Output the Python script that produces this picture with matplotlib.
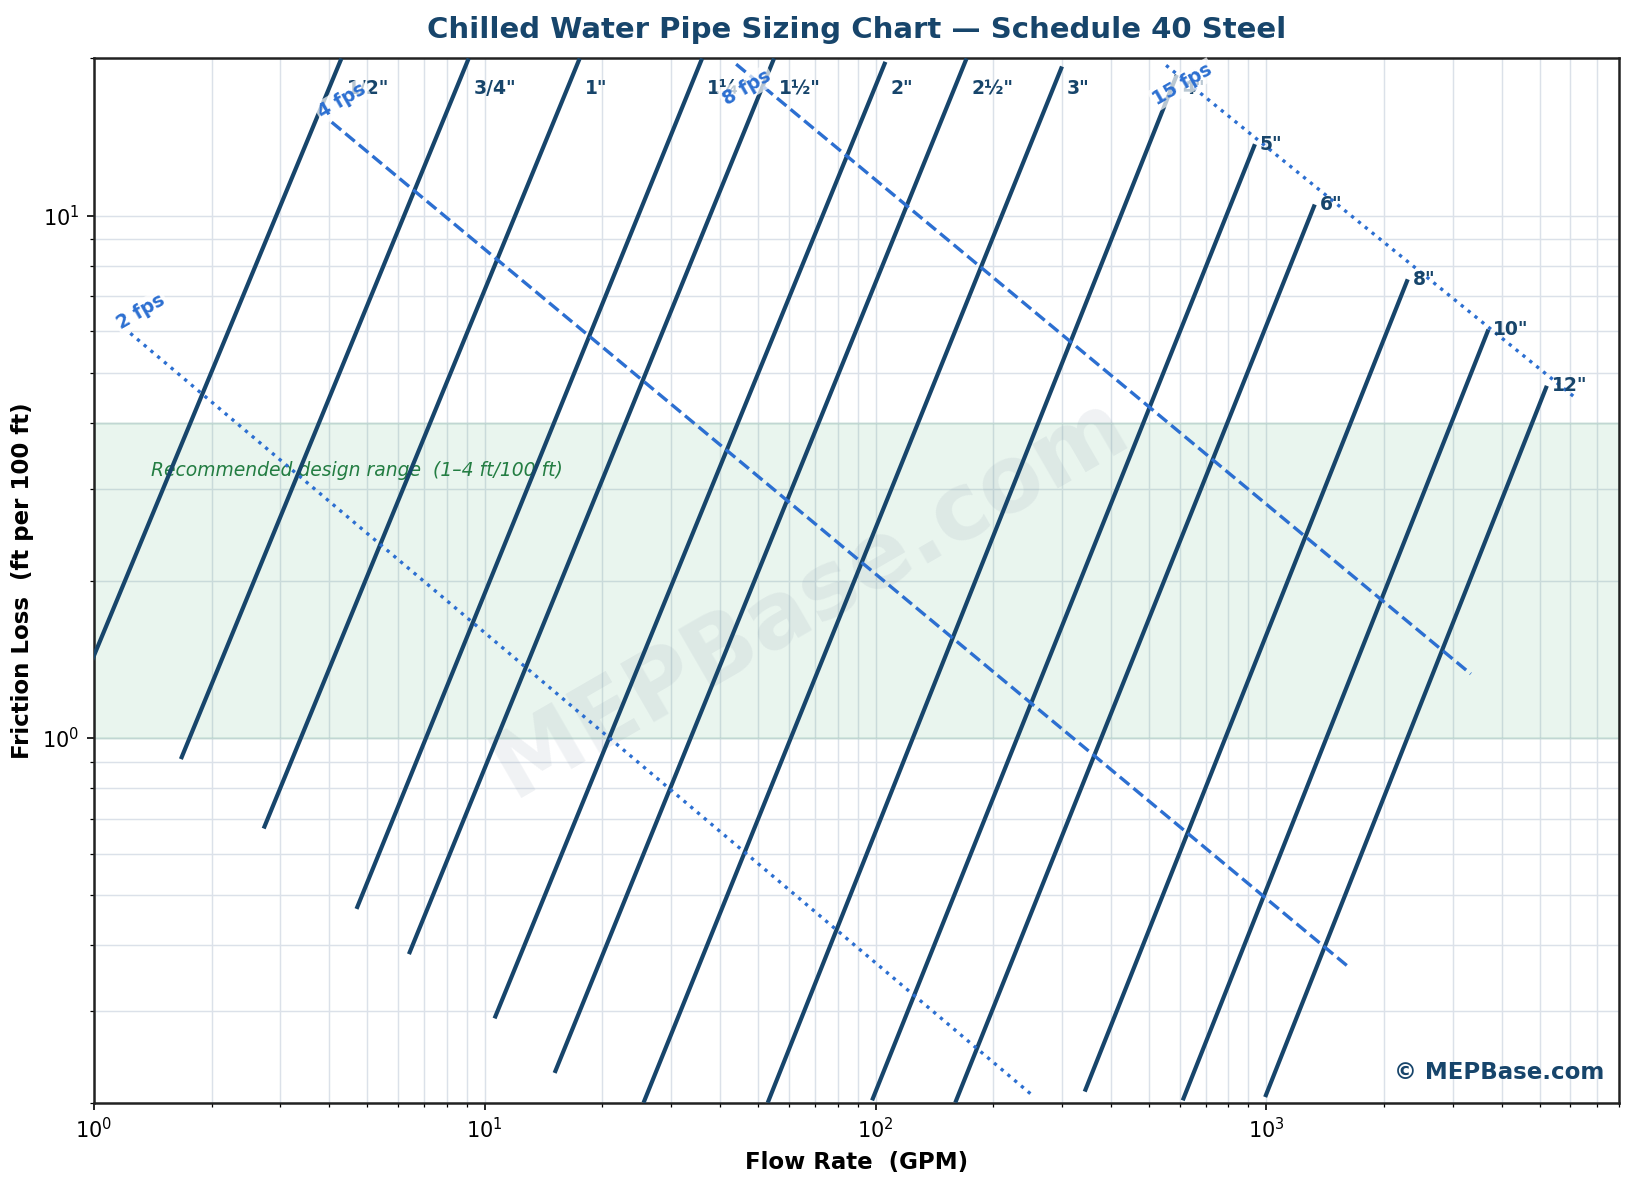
import matplotlib
matplotlib.use('Agg')
from matplotlib import pyplot as plt

# Schedule 40 steel pipes: visible segment of each friction line (GPM, ft/100 ft)
pipe_labels = ['1/2"', '3/4"', '1"', '1¼"', '1½"', '2"', '2½"', '3"',
               '4"', '5"', '6"', '8"', '10"', '12"']
pipe_q_start = [0.947, 1.67, 2.72, 4.7, 6.4, 10.6, 15.1, 25.5,
                53.0, 98.0, 160.0, 343.0, 611.0, 993.0]
pipe_h_start = [1.30, 0.91, 0.67, 0.47, 0.385, 0.29, 0.228, 0.20,
                0.20, 0.202, 0.20, 0.21, 0.202, 0.205]
pipe_q_end = [4.3, 9.1, 17.5, 36.0, 55.0, 106.0, 171.0, 300.0,
              590.0, 935.0, 1330.0, 2300.0, 3700.0, 5220.0]
pipe_h_end = [20.0, 20.0, 20.0, 20.0, 20.0, 19.7, 20.0, 19.3,
              18.6, 13.7, 10.5, 7.55, 6.05, 4.72]

# constant velocity lines
vel_labels = ['2 fps', '4 fps', '8 fps', '15 fps']
vel_q_start = [1.24, 4.06, 44.0, 554.0]
vel_h_start = [5.95, 15.1, 19.5, 19.4]
vel_q_end = [255.0, 1644.0, 3334.0, 6237.0]
vel_h_end = [0.205, 0.361, 1.325, 4.45]
vel_styles = [':', '--', '--', ':']

band_lo, band_hi = 1.0, 4.0

navy = '#17456b'
blue = '#2c6fd1'

fig = plt.figure(figsize=(10.9, 7.9), dpi=150)
ax = fig.add_axes([0.0574, 0.0695, 0.9330, 0.8812])
ax.set_xscale('log')
ax.set_yscale('log')
ax.set_xlim(1, 8000)
ax.set_ylim(0.2, 20)

ax.grid(True, which='both', color='#dbe1e9', linewidth=0.7, zorder=0)
ax.set_axisbelow(True)

ax.axhspan(band_lo, band_hi, facecolor=(0.18, 0.62, 0.36, 0.10),
           edgecolor=(0.18, 0.62, 0.36, 0.10), linewidth=1.2, zorder=1)
ax.text(1.4, 3.25, 'Recommended design range  (1\u20134 ft/100 ft)',
        fontsize=9, style='italic', color='#237d42', va='center', zorder=2)

ax.text(0.47, 0.485, 'MEPBase.com', transform=ax.transAxes, fontsize=44,
        fontweight='bold', color='#8393a8', alpha=0.12, rotation=30,
        ha='center', va='center', zorder=1.5)

for lbl, q0, h0, q1, h1 in zip(pipe_labels, pipe_q_start, pipe_h_start,
                               pipe_q_end, pipe_h_end):
    ax.plot([q0, q1], [h0, h1], color=navy, linewidth=2.0, zorder=3,
            solid_capstyle='butt')
    ax.text(q1 * 1.03, min(h1, 17.5), lbl, fontsize=9, fontweight='bold',
            color=navy, ha='left', va='center', zorder=4)

for lbl, q0, h0, q1, h1, ls in zip(vel_labels, vel_q_start, vel_h_start,
                                   vel_q_end, vel_h_end, vel_styles):
    ax.plot([q0, q1], [h0, h1], color=blue, linestyle=ls, linewidth=1.6,
            zorder=3)
    ax.text(q0 * 0.906, min(h0, 16.0), lbl, fontsize=9, fontweight='bold',
            color=blue, rotation=30, ha='left', va='bottom', zorder=5,
            bbox=dict(facecolor='white', edgecolor='none', alpha=0.7, pad=1))

ax.text(0.99, 0.018, '\u00a9 MEPBase.com', transform=ax.transAxes,
        ha='right', va='bottom', fontsize=11, fontweight='bold',
        color=navy, zorder=6)

ax.set_title('Chilled Water Pipe Sizing Chart \u2014 Schedule 40 Steel',
             fontsize=14, fontweight='bold', color=navy, pad=10)
ax.set_xlabel('Flow Rate  (GPM)', fontsize=11, fontweight='bold')
ax.set_ylabel('Friction Loss  (ft per 100 ft)', fontsize=11, fontweight='bold')

for s in ax.spines.values():
    s.set_linewidth(1.2)
    s.set_color('#222222')

plt.savefig('out.png', dpi=150)
